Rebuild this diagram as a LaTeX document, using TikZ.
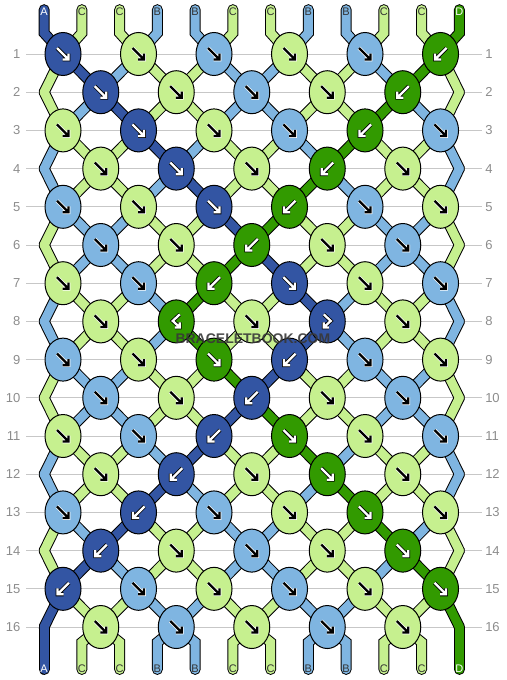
\documentclass[tikz,border=0pt]{standalone}
\usepackage{fontspec}
\setmainfont{Liberation Sans}
\usetikzlibrary{shapes.geometric}
\definecolor{colA}{HTML}{3355A3}
\definecolor{colB}{HTML}{7FB5E1}
\definecolor{colC}{HTML}{C6F08F}
\definecolor{colD}{HTML}{329A00}
\pgfdeclarelayer{bg}
\pgfsetlayers{bg,main}
\tikzset{
  knot/.style={ellipse,draw,line width=1pt,minimum width=36pt,minimum height=43pt,inner sep=0pt},
  lay1/.style={draw=black,line width=11pt,line cap=round},
  lay2/.style={line width=9pt,line cap=round},
  rowline/.style={draw=black!22,line width=1pt},
  rowlbl/.style={text=black!45,inner sep=0pt,font=\fontsize{13}{13}\selectfont},
  lbl/.style={inner sep=0pt,font=\fontsize{11}{11}\selectfont},
  ltA/.style={lbl,text=white}, ltD/.style={lbl,text=white},
  ltB/.style={lbl,text=black!80}, ltC/.style={lbl,text=black!80},
  arrw/.style={white,line width=2.3pt,preaction={draw=black,line width=3.9pt}},
  arrk/.style={black,line width=2.3pt,preaction={draw=white,line width=3.7pt}},
  arA/.style=arrw, arD/.style=arrw, arB/.style=arrk, arC/.style=arrk,
  wmark/.style={inner sep=0pt,font=\bfseries\fontsize{14}{14}\selectfont},
  fw/.pic={\draw[arr] (-6pt,6pt) -- (5.5pt,-5.5pt) (-0.5pt,-5.5pt) -- (5.5pt,-5.5pt) -- (5.5pt,0.5pt);},
  bw/.pic={\draw[arr] (6pt,6pt) -- (-5.5pt,-5.5pt) (0.5pt,-5.5pt) -- (-5.5pt,-5.5pt) -- (-5.5pt,0.5pt);},
  fb/.pic={\draw[arr] (-3.5pt,7pt) -- (3.5pt,0.5pt) -- (-3.5pt,-6pt) (1.5pt,-6pt) -- (-3.5pt,-6pt) -- (-3.5pt,-1pt);},
  bf/.pic={\draw[arr] (3.5pt,7pt) -- (-3.5pt,0.5pt) -- (3.5pt,-6pt) (-1.5pt,-6pt) -- (3.5pt,-6pt) -- (3.5pt,-1pt);}
}
\begin{document}
\begin{tikzpicture}[x=37.75pt,y=-38.2pt]
\useasboundingbox (-0.669,-0.4136) rectangle (12.735,17.387);
\foreach \r in {1,...,16}{
  \node[rowlbl,anchor=east] (l\r) at (-0.126,\r) {\r};
  \node[rowlbl,anchor=west] (r\r) at (12.18,\r) {\r};
}
\foreach \c [count=\p] in {A,C,C,B,B,C,C,B,B,C,C,D}{
  \coordinate (t-\p) at (\p-0.5,-0.16);
  \coordinate (b-\p) at (\p-0.5,17.11);
  \node[lt\c] (lt-\p) at (\p-0.5,-0.1) {\c};
  \node[lt\c] (lb-\p) at (\p-0.5,17.1) {\c};
}
\foreach \r/\ks in {1/{A/fw,C/fw,B/fw,C/fw,B/fw,D/bw},2/{A/fw,C/fw,B/fw,C/fw,D/bw},
  3/{C/fw,A/fw,C/fw,B/fw,D/bw,B/fw},4/{C/fw,A/fw,C/fw,D/bw,C/fw},
  5/{B/fw,C/fw,A/fw,D/bw,B/fw,C/fw},6/{B/fw,C/fw,D/bw,C/fw,B/fw},
  7/{C/fw,B/fw,D/bw,A/fw,C/fw,B/fw},8/{C/fw,D/bf,C/fw,A/fb,C/fw},
  9/{B/fw,C/fw,D/fw,A/bw,B/fw,C/fw},10/{B/fw,C/fw,A/bw,C/fw,B/fw},
  11/{C/fw,B/fw,A/bw,D/fw,C/fw,B/fw},12/{C/fw,A/bw,C/fw,D/fw,C/fw},
  13/{B/fw,A/bw,B/fw,C/fw,D/fw,C/fw},14/{A/bw,C/fw,B/fw,C/fw,D/fw},
  15/{A/bw,B/fw,C/fw,B/fw,C/fw,D/fw},16/{C/fw,B/fw,C/fw,B/fw,C/fw}}{
  \pgfmathtruncatemacro\m{mod(\r,2)}
  \foreach \c/\a [count=\i] in \ks{
    \pgfmathtruncatemacro\q{2*\i-\m}
    \node[knot,fill=col\c] (\r-\q) at (\q,\r) {};
    \pic[arr/.style=ar\c] at (\r-\q) {\a};
  }
  \ifodd\r\else
    \coordinate (\r-0) at (0.5,\r);
    \coordinate (\r-12) at (11.5,\r);
  \fi
}
\begin{pgfonlayer}{bg}
\foreach \r in {1,...,16} \draw[rowline] (0.02,\r) -- (12.1,\r);
\foreach \l in {1,2}{
  \foreach \c [count=\p] in {A,C,C,B,B,C,C,B,B,C,C,D}{
    \pgfmathtruncatemacro\qa{\p-mod(\p+1,2)}
    \pgfmathtruncatemacro\qb{\p-mod(\p,2)}
    \draw[draw=col\c,lay\l] (t-\p.center) -- (\p-0.5,0.45) -- (1-\qa.center);
    \draw[draw=col\c,lay\l] (16-\qb.center) -- (\p-0.5,16.4) -- (b-\p.center);
  }
  \foreach \r/\s in {1/{C,A,B,C,C,B,B,C,C,B,D,C},2/{C,B,A,C,C,B,B,C,C,D,B,C},
    3/{B,C,C,A,B,C,C,B,D,C,C,B},4/{B,C,C,B,A,C,C,D,B,C,C,B},
    5/{C,B,B,C,C,A,D,C,C,B,B,C},6/{C,B,B,C,C,D,A,C,C,B,B,C},
    7/{B,C,C,B,D,C,C,A,B,C,C,B},8/{B,C,C,B,D,C,C,A,B,C,C,B},
    9/{C,B,B,C,C,D,A,C,C,B,B,C},10/{C,B,B,C,C,A,D,C,C,B,B,C},
    11/{B,C,C,B,A,C,C,D,B,C,C,B},12/{B,C,C,A,B,C,C,B,D,C,C,B},
    13/{C,B,A,C,C,B,B,C,C,D,B,C},14/{C,A,B,C,C,B,B,C,C,B,D,C},
    15/{A,C,C,B,B,C,C,B,B,C,C,D}}{
    \pgfmathtruncatemacro\rn{\r+1}
    \foreach \c [count=\p] in \s{
      \pgfmathtruncatemacro\qa{\p-mod(\p+\r,2)}
      \pgfmathtruncatemacro\qb{\p-mod(\p+\r+1,2)}
      \draw[draw=col\c,lay\l] (\r-\qa.center) -- (\rn-\qb.center);
    }
  }
}
\end{pgfonlayer}
\node[wmark,text=black!78,opacity=.9] (wm) at (6.03,8.46) {BRACELETBOOK.COM};
\end{tikzpicture}
\end{document}
